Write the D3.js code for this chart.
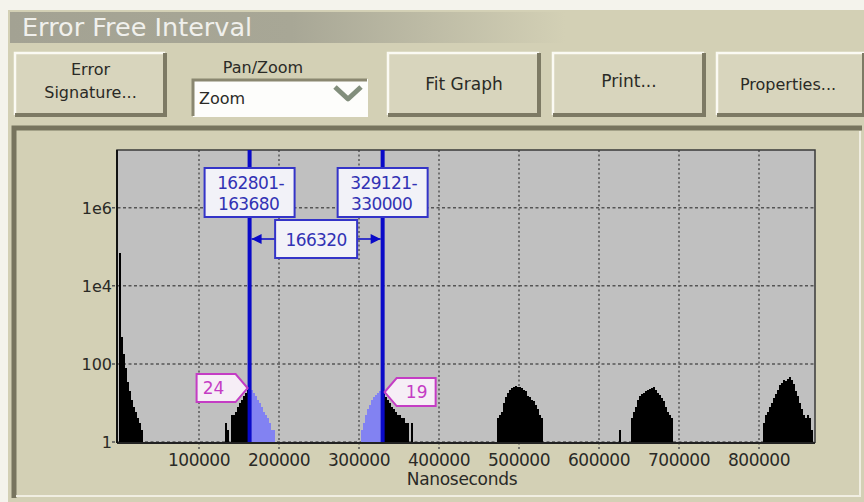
<!DOCTYPE html>
<html lang="en">
<head>
<meta charset="utf-8" />
<title>Error Free Interval</title>
<script src="https://d3js.org/d3.v7.min.js"></script>
<style>
  body { margin: 0; background: #f4f3ec; }
  svg text { font-family: "DejaVu Sans", Verdana, sans-serif; }
</style>
</head>
<body>
<svg id="chart" width="864" height="502"></svg>
<script>
// histogram data, bin width in ns, one start + counts array per cluster
const binWidth = 2500;
const clusterStarts = [0, 130000, 300000, 472500, 625000, 805000];
const countsNearZero = [70000, 500, 180, 80, 35, 20, 12, 8, 6, 4, 3, 2];
const countsCluster1 = [1, 3, 2, 1, 5, 5, 6, 8, 10, 12, 15, 18, 22, 24, 22, 18, 15, 12, 10, 8, 6, 5, 4, 3, 2, 2, 1];
const countsCluster2 = [1, 2, 3, 5, 7, 9, 12, 14, 16, 18, 20, 19, 17, 14, 12, 10, 8, 7, 6, 5, 5, 4, 4, 3, 3, 1, 3, 1];
const countsCluster3 = [4, 5, 6, 10, 14, 18, 22, 24, 26, 27, 25, 26, 24, 22, 20, 15, 14, 12, 11, 9, 7, 5, 4];
const countsCluster4 = [2, 0, 0, 0, 0, 0, 4, 6, 8, 12, 15, 17, 18, 20, 21, 23, 24, 25, 22, 18, 16, 13, 11, 8, 6, 5, 4];
const countsCluster5 = [3, 5, 6, 8, 10, 13, 17, 22, 28, 32, 38, 36, 42, 46, 38, 30, 20, 15, 10, 7, 5, 4, 5, 4, 2];

// cursors
const cursorRanges = [[162801, 163680], [329121, 330000]];
const cursorCounts = [24, 19];
const cursorInterval = 166320;

// axes
const xTicks = [100000, 200000, 300000, 400000, 500000, 600000, 700000, 800000];
const yTicks = [1, 100, 1e4, 1e6];
const yTickLabels = ["1", "100", "1e4", "1e6"];
const xLabel = "Nanoseconds";

// buttons
const buttonLabels = [["Error", "Signature..."], ["Fit Graph"], ["Print..."], ["Properties..."]];

const panel = "#d3d0b5";
const face = "#d8d5bd";
const ink = "#2a2a26";
const svg = d3.select("#chart");

// build bins
const allCounts = [countsNearZero, countsCluster1, countsCluster2, countsCluster3, countsCluster4, countsCluster5];
const bins = [];
allCounts.forEach((arr, c) => {
  arr.forEach((v, i) => {
    if (v > 0) bins.push({ x0: clusterStarts[c] + i * binWidth, count: v });
  });
});

// background + title band
svg.append("rect").attr("x", 8).attr("y", 10).attr("width", 856).attr("height", 492).attr("fill", panel);
const grad = svg.append("defs").append("linearGradient").attr("id", "tb");
grad.append("stop").attr("offset", "0").attr("stop-color", "#a3a293");
grad.append("stop").attr("offset", "0.33").attr("stop-color", "#a8a796");
grad.append("stop").attr("offset", "0.65").attr("stop-color", panel);
svg.append("rect").attr("x", 10).attr("y", 12).attr("width", 854).attr("height", 31).attr("fill", "url(#tb)");
svg.append("text").attr("x", 22).attr("y", 36).attr("font-size", "25.5px").attr("fill", "#f0f0ec")
  .text("Error Free Interval");

// buttons
function button(bx, by, w, h) {
  const g = svg.append("g");
  g.append("rect").attr("x", bx).attr("y", by).attr("width", w).attr("height", h).attr("fill", face);
  g.append("path").attr("d", `M${bx + 1},${by + h - 2} V${by + 1} H${bx + w - 2}`).attr("fill", "none")
    .attr("stroke", "#fbfaf3").attr("stroke-width", 2.5);
  g.append("path").attr("d", `M${bx + 1},${by + h - 2} H${bx + w - 2} V${by + 1}`).attr("fill", "none")
    .attr("stroke", "#7d7a64").attr("stroke-width", 4);
  return g;
}
const buttonBoxes = [[14, 52, 153, 65], [387, 52, 154, 65], [552, 52, 154, 65], [716, 52, 150, 65]];
const buttonBaselines = [[75, 98], [90], [87], [90]];
const buttonSizes = [16, 17, 17, 16];
buttonBoxes.forEach((b, i) => {
  const g = button(...b);
  buttonLabels[i].forEach((t, j) => {
    g.append("text").attr("x", b[0] + b[2] / 2 - (i === 3 ? 3 : 0)).attr("y", buttonBaselines[i][j])
      .attr("text-anchor", "middle").attr("font-size", buttonSizes[i] + "px").attr("fill", ink).text(t);
  });
});

// pan/zoom combo
svg.append("text").attr("x", 263).attr("y", 73).attr("text-anchor", "middle")
  .attr("font-size", "16px").attr("fill", ink).text("Pan/Zoom");
svg.append("rect").attr("x", 193).attr("y", 79).attr("width", 175).attr("height", 38).attr("fill", "#fdfdfb");
svg.append("path").attr("d", "M193,116 V80 H367").attr("fill", "none").attr("stroke", "#8a8770").attr("stroke-width", 3);
svg.append("path").attr("d", "M335,87 L348,99 L361,87").attr("fill", "none")
  .attr("stroke", "#828e7c").attr("stroke-width", 5).attr("stroke-linejoin", "round");
svg.append("text").attr("x", 199).attr("y", 104).attr("font-size", "16px").attr("fill", ink).text("Zoom");

// chart group box
svg.append("rect").attr("x", 12).attr("y", 126).attr("width", 850).attr("height", 372).attr("fill", panel);
svg.append("path").attr("d", "M14,498 V128 H862").attr("fill", "none").attr("stroke", "#77745e").attr("stroke-width", 5);
svg.append("path").attr("d", "M16,496 H860 V131").attr("fill", "none").attr("stroke", "#f0eee2").attr("stroke-width", 2);

// plot
const plotLeft = 117, plotRight = 815, plotTop = 150, plotBottom = 442;
const x = d3.scaleLinear().domain([-2500, 870000]).range([plotLeft, plotRight]);
const y = d3.scaleLog().domain([1, 3e7]).range([plotBottom, plotTop]);

svg.append("rect").attr("x", plotLeft).attr("y", plotTop).attr("width", plotRight - plotLeft)
  .attr("height", plotBottom - plotTop + 1).attr("fill", "#c0c0c0");

// grid
svg.append("g").selectAll("line").data(xTicks).join("line")
  .attr("x1", d => x(d)).attr("x2", d => x(d)).attr("y1", plotTop).attr("y2", plotBottom + 8)
  .attr("stroke", "#555").attr("stroke-width", 1.5).attr("stroke-dasharray", "2,2.5");
svg.append("g").selectAll("line").data(yTicks).join("line")
  .attr("x1", plotLeft - 5).attr("x2", plotRight).attr("y1", d => y(d)).attr("y2", d => y(d))
  .attr("stroke", "#555").attr("stroke-width", 1.5).attr("stroke-dasharray", "3,2.5");

// bars
const mid = r => (r[0] + r[1]) / 2;
const c1 = mid(cursorRanges[0]), c2 = mid(cursorRanges[1]);
svg.append("g").attr("shape-rendering", "crispEdges").selectAll("rect").data(bins).join("rect")
  .attr("x", d => x(d.x0)).attr("width", d => x(d.x0 + binWidth) - x(d.x0))
  .attr("y", d => y(d.count)).attr("height", d => plotBottom + 1 - y(d.count))
  .attr("fill", d => {
    const m = d.x0 + binWidth / 2;
    return (m > c1 && m < c2) ? "#8282f2" : "#000";
  });

// frame
svg.append("path").attr("d", `M${plotLeft},${plotBottom + 1} V${plotTop} H${plotRight} V${plotBottom + 1}`)
  .attr("fill", "none").attr("stroke", "#3a3a3a").attr("stroke-width", 1.5);
svg.append("line").attr("x1", plotLeft).attr("x2", plotRight).attr("y1", plotBottom + 1).attr("y2", plotBottom + 1)
  .attr("stroke", "#222").attr("stroke-width", 2);
svg.append("line").attr("x1", plotLeft).attr("x2", plotLeft).attr("y1", plotTop).attr("y2", plotBottom + 1)
  .attr("stroke", "#111").attr("stroke-width", 2);

// tick labels
svg.append("g").selectAll("text").data(yTicks).join("text")
  .attr("x", plotLeft - 5).attr("y", d => y(d) + 6).attr("text-anchor", "end")
  .attr("font-size", "16px").attr("fill", ink).text((d, i) => yTickLabels[i]);
svg.append("g").selectAll("text").data(xTicks).join("text")
  .attr("x", d => x(d)).attr("y", 466).attr("text-anchor", "middle")
  .attr("font-size", "17px").attr("fill", ink).attr("letter-spacing", "-0.5px").text(d => d);
svg.append("text").attr("x", 462).attr("y", 485).attr("text-anchor", "middle")
  .attr("font-size", "17px").attr("fill", ink).attr("letter-spacing", "-0.3px").text(xLabel);

// cursor lines
const blue = "#0a0ac8";
[c1, c2].forEach(c => {
  svg.append("line").attr("x1", x(c)).attr("x2", x(c)).attr("y1", plotTop).attr("y2", plotBottom)
    .attr("stroke", blue).attr("stroke-width", 4);
});

// cursor range boxes
cursorRanges.forEach(r => {
  const cx = x(mid(r));
  svg.append("rect").attr("x", cx - 45).attr("y", 168).attr("width", 90).attr("height", 49)
    .attr("fill", "#f2f2f8").attr("stroke", "#3434c8").attr("stroke-width", 2);
  svg.append("text").attr("x", cx + 1).attr("y", 189).attr("text-anchor", "middle")
    .attr("font-size", "17px").attr("fill", "#3232b4").attr("letter-spacing", "-0.6px").text(r[0] + "-");
  svg.append("text").attr("x", cx - 1).attr("y", 210).attr("text-anchor", "middle")
    .attr("font-size", "17px").attr("fill", "#3232b4").attr("letter-spacing", "-0.6px").text(r[1]);
});

// interval arrows + box
const ay = 239, xm = (x(c1) + x(c2)) / 2;
svg.append("line").attr("x1", x(c1) + 2).attr("x2", x(c2) - 2).attr("y1", ay).attr("y2", ay)
  .attr("stroke", blue).attr("stroke-width", 1.5);
svg.append("path").attr("d", `M${x(c1) + 2},${ay} l10,-5 v10 Z M${x(c2) - 2},${ay} l-10,-5 v10 Z`).attr("fill", blue);
svg.append("rect").attr("x", xm - 41).attr("y", 220).attr("width", 82).attr("height", 38)
  .attr("fill", "#f2f2f8").attr("stroke", "#3434c8").attr("stroke-width", 2);
svg.append("text").attr("x", xm).attr("y", 246).attr("text-anchor", "middle")
  .attr("font-size", "17px").attr("fill", "#3232b4").attr("letter-spacing", "-0.6px").text(cursorInterval);

// count flags
const pink = "#c43cc4";
const t1 = x(c1) - 2, ty1 = y(cursorCounts[0]);
svg.append("path").attr("d", `M${t1 - 51},${ty1 - 14} H${t1 - 12} L${t1},${ty1} L${t1 - 12},${ty1 + 14} H${t1 - 51} Z`)
  .attr("fill", "#f6eef6").attr("stroke", pink).attr("stroke-width", 2);
svg.append("text").attr("x", t1 - 34).attr("y", ty1 + 6).attr("text-anchor", "middle")
  .attr("font-size", "17px").attr("fill", pink).text(cursorCounts[0]);
const t2 = x(c2) + 2, ty2 = y(cursorCounts[1]);
svg.append("path").attr("d", `M${t2 + 51},${ty2 - 14} H${t2 + 12} L${t2},${ty2} L${t2 + 12},${ty2 + 14} H${t2 + 51} Z`)
  .attr("fill", "#f6eef6").attr("stroke", pink).attr("stroke-width", 2);
svg.append("text").attr("x", t2 + 32).attr("y", ty2 + 6).attr("text-anchor", "middle")
  .attr("font-size", "17px").attr("fill", pink).text(cursorCounts[1]);
</script>
</body>
</html>
